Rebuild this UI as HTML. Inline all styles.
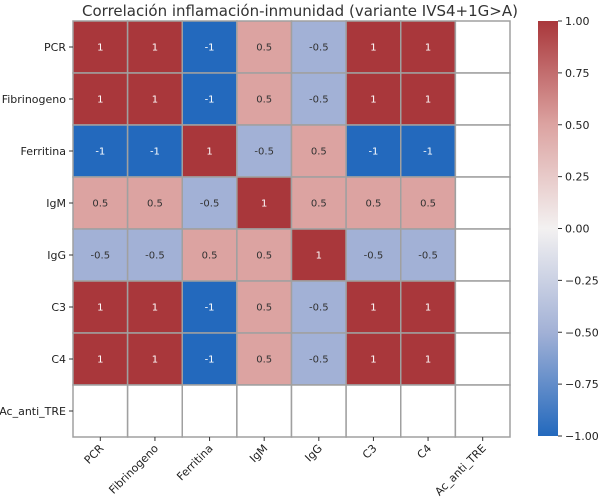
<!DOCTYPE html>
<html><head><meta charset="utf-8"><style>
body{margin:0;background:#fff;font-family:"Liberation Sans","DejaVu Sans",sans-serif;}
svg text{font-family:"DejaVu Sans","Liberation Sans",sans-serif;}
</style></head><body>
<svg id="c" width="600" height="499" viewBox="0 0 600 499">
<defs><linearGradient id="g" x1="0" y1="1" x2="0" y2="0">
<stop offset="0" stop-color="#2369bd"/><stop offset="0.25" stop-color="#a2b1d6"/>
<stop offset="0.5" stop-color="#f3f1f1"/><stop offset="0.75" stop-color="#dca3a1"/>
<stop offset="1" stop-color="#a9373b"/></linearGradient></defs>
<text x="300" y="16" text-anchor="middle" font-size="15" fill="#333">Correlación inflamación-inmunidad (variante IVS4+1G&gt;A)</text>
</svg>
<script>
const labels=["PCR","Fibrinogeno","Ferritina","IgM","IgG","C3","C4","Ac_anti_TRE"];
const matrix=[
[1,1,-1,0.5,-0.5,1,1,null],
[1,1,-1,0.5,-0.5,1,1,null],
[-1,-1,1,-0.5,0.5,-1,-1,null],
[0.5,0.5,-0.5,1,0.5,0.5,0.5,null],
[-0.5,-0.5,0.5,0.5,1,-0.5,-0.5,null],
[1,1,-1,0.5,-0.5,1,1,null],
[1,1,-1,0.5,-0.5,1,1,null],
[null,null,null,null,null,null,null,null]];
const cbTicks=[1,0.75,0.5,0.25,0,-0.25,-0.5,-0.75,-1];
const svg=document.getElementById('c');const NS="http://www.w3.org/2000/svg";
const L=73,T=21,R=510,B=437,n=labels.length,cw=(R-L)/n,ch=(B-T)/n;
function mk(t,a,p){const e=document.createElementNS(NS,t);for(const k in a)e.setAttribute(k,a[k]);(p||svg).appendChild(e);return e;}
function lerp(a,b,t){return a.map((v,i)=>Math.round(v+(b[i]-v)*t));}
const stops=[[35,105,189],[162,177,214],[243,241,241],[220,163,161],[169,55,59]];
function color(v){const p=(v+1)/2*4;const i=Math.min(3,Math.floor(p));const c=lerp(stops[i],stops[i+1],p-i);return `rgb(${c})`;}
const xs=i=>L+i*cw, ys=j=>T+j*ch;
for(let r=0;r<n;r++)for(let c=0;c<n;c++){
 const v=matrix[r][c];
 const rect=mk('rect',{x:xs(c),y:ys(r),width:cw,height:ch,fill:v==null?'#fff':color(v),stroke:'#a0a0a0','stroke-width':1.5});
 
 
 if(v!=null){const t=mk('text',{x:xs(c)+cw/2,y:ys(r)+ch/2+3.5,'text-anchor':'middle','font-size':10,fill:Math.abs(v)>0.75?'#fff':'#333'});t.textContent=String(v);
 
 }
}
mk('rect',{x:L,y:T,width:R-L,height:B-T,fill:'none',stroke:'#a0a0a0','stroke-width':1});
labels.forEach((l,i)=>{
 const y=ys(i)+ch/2;
 mk('line',{x1:L-4,x2:L,y1:y,y2:y,stroke:'#333'});
 const t=mk('text',{x:L-7,y:y+4,'text-anchor':'end','font-size':11,fill:'#222'});t.textContent=l;
 
 
 const x=xs(i)+cw/2;
 mk('line',{x1:x,x2:x,y1:B,y2:B+4,stroke:'#333'});
 const u=mk('text',{x:x+4,y:B+12,'text-anchor':'end','font-size':11,fill:'#222',transform:`rotate(-45 ${x+4} ${B+12})`});u.textContent=l;
 
 
});
const cx=538,cwid=20,cT=21,cB=436;
const cb=mk('rect',{x:cx,y:cT,width:cwid,height:cB-cT,fill:'url(#g)'});


cbTicks.forEach(v=>{const y=cB-(v+1)/2*(cB-cT);
 mk('line',{x1:cx+cwid,x2:cx+cwid+4,y1:y,y2:y,stroke:'#333'});
 const t=mk('text',{x:cx+cwid+7,y:y+4,'font-size':11,fill:'#222'});t.textContent=(v<0?'\u2212':'')+Math.abs(v).toFixed(2);
 
 });
</script>
</body></html>
